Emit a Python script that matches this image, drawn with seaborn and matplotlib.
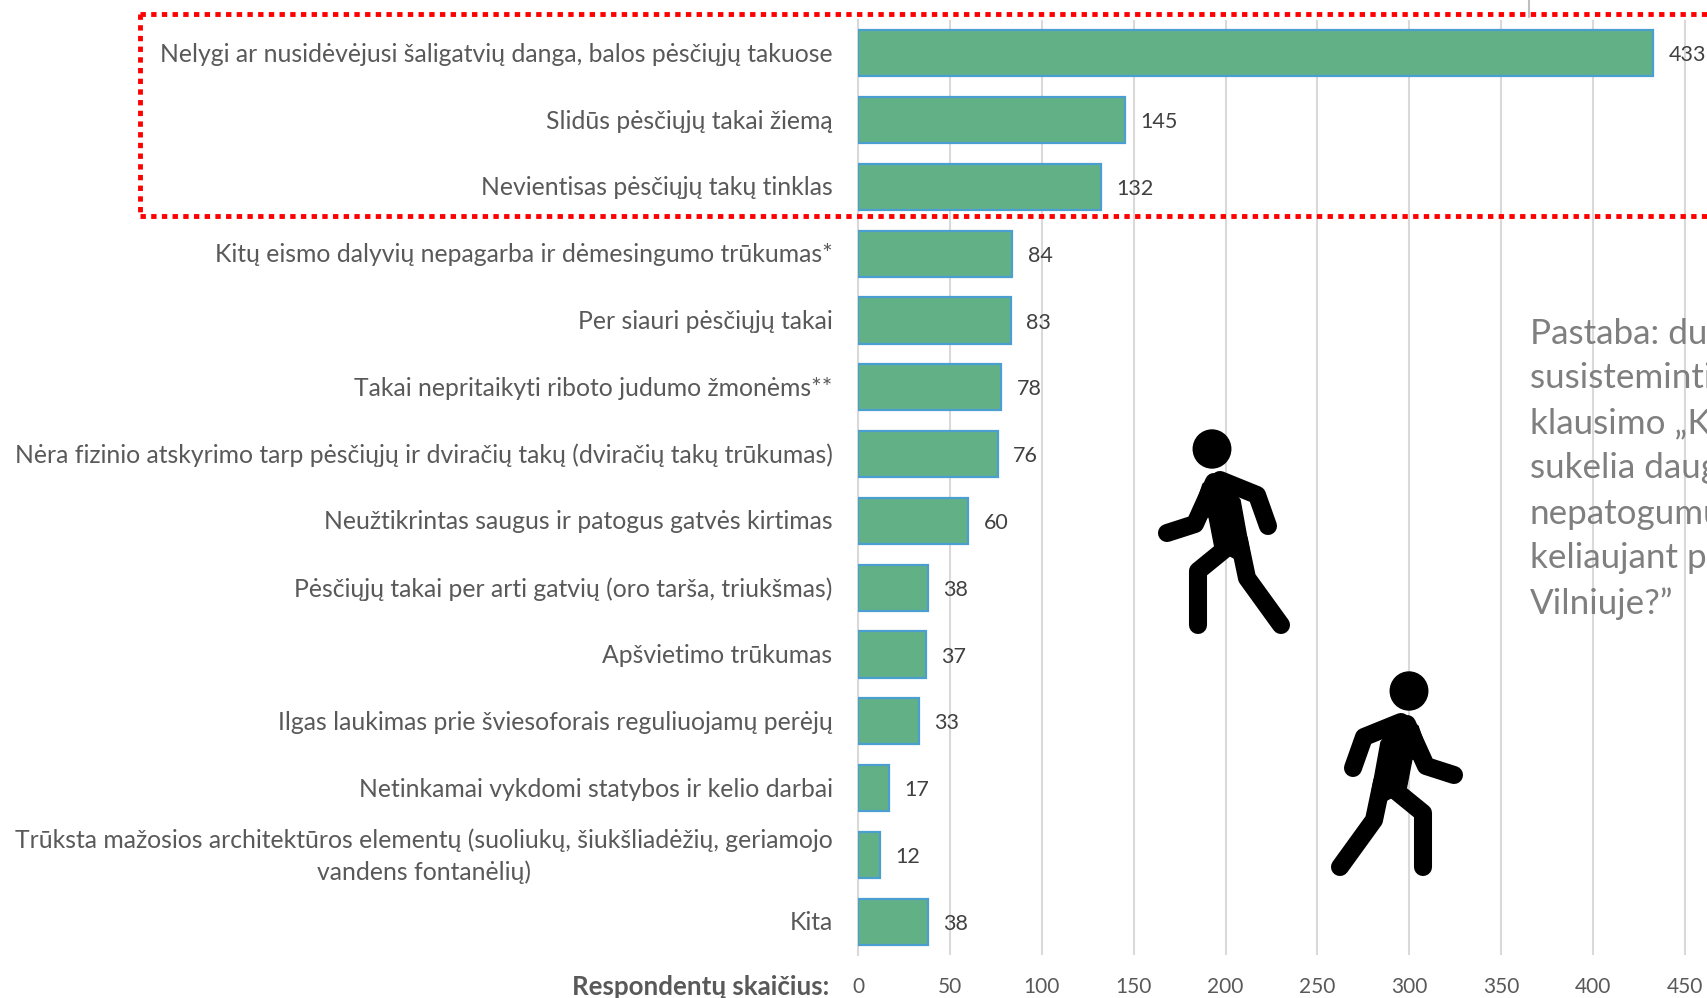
import pandas as pd
import matplotlib
matplotlib.use("Agg")
import matplotlib.pyplot as plt
from matplotlib.patches import Ellipse, Polygon
from matplotlib.transforms import ScaledTranslation
import seaborn as sns

# --- Data ---
categories = [
    "Nelygi ar nusidėvėjusi šaligatvių danga, balos pėsčiųjų takuose",
    "Slidūs pėsčiųjų takai žiemą",
    "Nevientisas pėsčiųjų takų tinklas",
    "Kitų eismo dalyvių nepagarba ir dėmesingumo trūkumas*",
    "Per siauri pėsčiųjų takai",
    "Takai nepritaikyti riboto judumo žmonėms**",
    "Nėra fizinio atskyrimo tarp pėsčiųjų ir dviračių takų (dviračių takų trūkumas)",
    "Neužtikrintas saugus ir patogus gatvės kirtimas",
    "Pėsčiųjų takai per arti gatvių (oro tarša, triukšmas)",
    "Apšvietimo trūkumas",
    "Ilgas laukimas prie šviesoforais reguliuojamų perėjų",
    "Netinkamai vykdomi statybos ir kelio darbai",
    "Trūksta mažosios architektūros elementų (suoliukų, šiukšliadėžių, geriamojo\nvandens fontanėlių)",
    "Kita",
]
respondents = [433, 145, 132, 84, 83, 78, 76, 60, 38, 37, 33, 17, 12, 38]
x_ticks = [0, 50, 100, 150, 200, 250, 300, 350, 400, 450]
axis_title = "Respondentų skaičius:"
note_lines = [
    "Pastaba: duomenys",
    "susisteminti pagal",
    "klausimo „Kas",
    "sukelia daugiausiai",
    "nepatogumų",
    "keliaujant pėsčiomis",
    "Vilniuje?”",
]

W, H = 1708, 998
TEXT = "#595959"
GRID = "#D9D9D9"

sns.set_theme(style="white")
plt.rcParams["font.family"] = ["Lato", "DejaVu Sans"]

fig = plt.figure(figsize=(W / 100, H / 100), dpi=100, facecolor="white")
ax = fig.add_axes([858.2 / W, 1 - 955 / H, (W - 858.2) / W, 935 / H])

df = pd.DataFrame({"category": categories, "respondents": respondents})
sns.barplot(data=df, x="respondents", y="category", orient="h", color="#62B085",
            saturation=1, edgecolor="#4A9FD0", linewidth=1.6, width=0.69, ax=ax, zorder=3)

ax.set_xlim(0, (W - 858.2) / 1.8367)
ax.set_ylim(13.5, -0.5)
ax.set_xticks(x_ticks)
ax.set_xlabel("")
ax.set_ylabel("")
ax.grid(axis="x", color=GRID, linewidth=1.5, zorder=0)
ax.set_axisbelow(True)
for side in ["top", "right", "bottom"]:
    ax.spines[side].set_visible(False)
ax.spines["left"].set_color(GRID)
ax.spines["left"].set_linewidth(1.5)
ax.tick_params(axis="x", length=0, pad=15.5, labelsize=15, labelcolor=TEXT)
ax.tick_params(axis="y", length=0, pad=18.5, labelsize=17.85, labelcolor=TEXT)
for lab in ax.get_yticklabels():
    lab.set_multialignment("center")
    lab.set_linespacing(1.42)
    # the two-line label sits a little higher than its bar centre
    lift = 3.5 if "\n" in lab.get_text() else 0.7
    lab.set_transform(lab.get_transform() + ScaledTranslation(0, lift / 72, fig.dpi_scale_trans))

# Value labels
value_labels = ax.bar_label(ax.containers[0], padding=11, fontsize=15.5, color="#404040", zorder=5)
for lab in value_labels:
    lab.xyann = (lab.xyann[0], lab.xyann[1] - 1.5)

# --- Overlay in pixel coordinates for the annotations ---
ov = fig.add_axes([0, 0, 1, 1], facecolor="none")
ov.set_xlim(0, W)
ov.set_ylim(H, 0)
ov.axis("off")

ov.plot([1529, 1529], [0, 17], color="#BFBFBF", linewidth=1.5)

# Red dotted frame, open towards the right edge
for xs, ys in [([140.5, W], [13.5, 13.5]), ([140.5, W], [216, 216]), ([140.5, 140.5], [13.5, 216])]:
    ov.plot(xs, ys, color="#FF0000", linewidth=3.5, linestyle=(0, (1.1, 1.1)), dash_capstyle="butt")

ov.text(829, 987, axis_title, ha="right", va="center", fontsize=18.6, fontweight="bold", color=TEXT)

for i, line in enumerate(note_lines):
    ov.text(1530, 343.5 + i * 45, line, ha="left", va="baseline", fontsize=25.2, color="#7F7F7F", zorder=1)


def walker(mirror_at=None, dy=0):
    # pedestrian icon, drawn as limbs with round caps
    fx = (lambda v: v) if mirror_at is None else (lambda v: mirror_at - v)
    limbs = [
        [(1167, 533), (1195, 524), (1214, 482)],
        [(1220, 480), (1257, 495), (1268, 526)],
        [(1225, 549), (1198, 571), (1198, 625)],
        [(1239, 540), (1247, 578), (1281, 625)],
    ]
    for limb in limbs:
        ov.plot([fx(p[0]) for p in limb], [p[1] + dy for p in limb], color="black",
                linewidth=13, solid_capstyle="round", solid_joinstyle="round", zorder=6)
    body = [(1203, 484), (1220, 473), (1240, 500), (1250, 555), (1234, 558),
            (1215, 548), (1209, 517), (1191, 520)]
    ov.add_patch(Polygon([(fx(p[0]), p[1] + dy) for p in body], closed=True, color="black", zorder=6))
    ov.add_patch(Ellipse((fx(1212), 449 + dy), 37.5, 38, color="black", zorder=6))


walker()
walker(mirror_at=2621, dy=242)

fig.savefig("out.png", dpi=100)
